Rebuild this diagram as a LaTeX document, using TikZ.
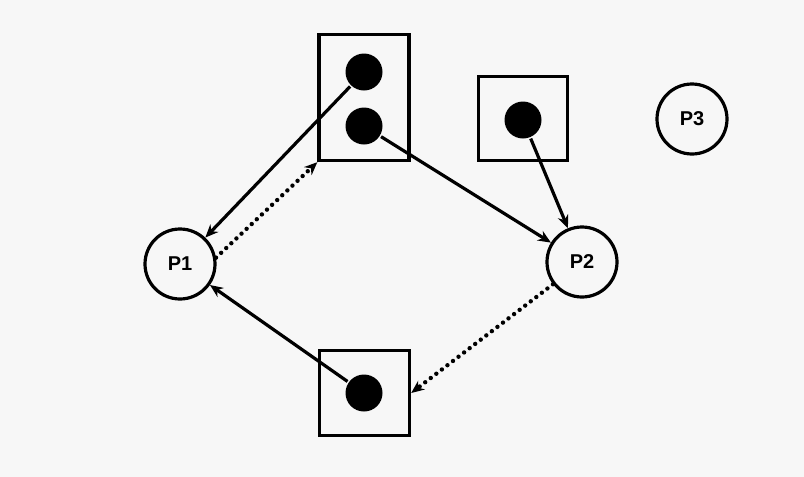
\documentclass[tikz,border=0pt]{standalone}
\usepackage{fontspec}
\setmainfont{Liberation Sans}
\usetikzlibrary{arrows.meta}

\begin{document}
\begin{tikzpicture}[
  x=0.5pt, y=-0.5pt,
  proc/.style={draw, circle, line width=1.6pt, minimum size=35pt, inner sep=0pt,
               font=\fontsize{10}{12}\selectfont\bfseries},
  res/.style={draw, line width=1.7pt, inner sep=0pt},
  inst/.style={circle, fill=black, minimum size=18.5pt, inner sep=0pt},
  req/.style={->, line width=2.2pt, dash pattern=on 0pt off 3.5pt, line cap=round},
  >={Stealth[length=6.5pt,width=5.5pt]}, line width=1.6pt
]
  \useasboundingbox[fill=black!3] (0,0) rectangle (804,477);

  % resources with their instances
  \node[res, minimum width=45pt, minimum height=63pt]   (r1) at (364,97.5) {};
  \node[res, minimum width=44.5pt, minimum height=42pt] (r2) at (523,118.5) {};
  \node[res, minimum width=45pt, minimum height=42.5pt] (r3) at (364.5,393) {};
  \node[inst] (r1a) at (364,72)  {};
  \node[inst] (r1b) at (364,126) {};
  \node[inst] (r2a) at (523,120) {};
  \node[inst] (r3a) at (364,393) {};

  % processes
  \node[proc] (p1) at (180,264) {P1};
  \node[proc] (p2) at (582,262) {P2};
  \node[proc] (p3) at (692,119) {P3};

  % assignment edges
  \draw[->] (r1a) -- (p1);
  \draw[->] (r1b) -- (p2);
  \draw[->] (r2a) -- (p2);
  \draw[->] (r3a) -- (p1);

  % request edges
  \draw[req] (p1.10) -- (r1.south west);
  \draw[req] (p2) -- (r3.east);
\end{tikzpicture}
\end{document}
